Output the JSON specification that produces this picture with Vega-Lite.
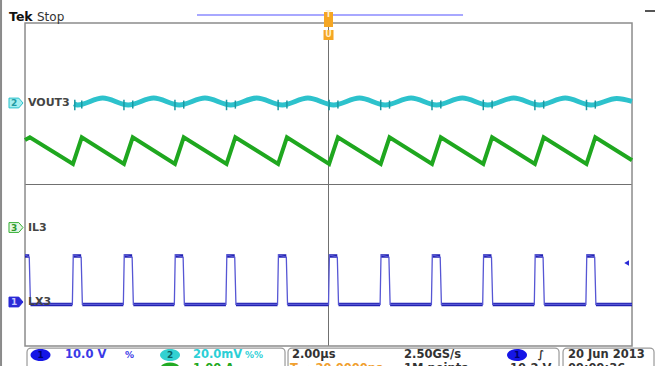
{
  "$schema": "https://vega.github.io/schema/vega-lite/v6.json",
  "width": 664,
  "height": 366,
  "padding": 0,
  "autosize": {"type": "none"},
  "background": "#ffffff",
  "config": {"view": {"stroke": null}, "text": {"font": "DejaVu Sans"}},
  "datasets": {
    "xt": [{"t":-10},{"t":-9.6},{"t":-9.2},{"t":-8.8},{"t":-8.4},{"t":-8},{"t":-7.6},{"t":-7.2},{"t":-6.8},{"t":-6.4},{"t":-6},{"t":-5.6},{"t":-5.2},{"t":-4.8},{"t":-4.4},{"t":-4},{"t":-3.6},{"t":-3.2},{"t":-2.8},{"t":-2.4},{"t":-2},{"t":-1.6},{"t":-1.2},{"t":-0.8},{"t":-0.4},{"t":0},{"t":0.4},{"t":0.8},{"t":1.2},{"t":1.6},{"t":2},{"t":2.4},{"t":2.8},{"t":3.2},{"t":3.6},{"t":4},{"t":4.4},{"t":4.8},{"t":5.2},{"t":5.6},{"t":6},{"t":6.4},{"t":6.8},{"t":7.2},{"t":7.6},{"t":8},{"t":8.4},{"t":8.8},{"t":9.2},{"t":9.6},{"t":10}],
    "yt": [{"v":-4},{"v":-3.8},{"v":-3.6},{"v":-3.4},{"v":-3.2},{"v":-3},{"v":-2.8},{"v":-2.6},{"v":-2.4},{"v":-2.2},{"v":-2},{"v":-1.8},{"v":-1.6},{"v":-1.4},{"v":-1.2},{"v":-1},{"v":-0.8},{"v":-0.6},{"v":-0.4},{"v":-0.2},{"v":0},{"v":0.2},{"v":0.4},{"v":0.6},{"v":0.8},{"v":1},{"v":1.2},{"v":1.4},{"v":1.6},{"v":1.8},{"v":2},{"v":2.2},{"v":2.4},{"v":2.6},{"v":2.8},{"v":3},{"v":3.2},{"v":3.4},{"v":3.6},{"v":3.8},{"v":4}],
    "lx3": [{"t":-10,"v":-1.74},{"t":-9.86,"v":-1.8},{"t":-9.82,"v":-2.97},
      {"t":-8.44,"v":-2.97},{"t":-8.41,"v":-1.74},{"t":-8.15,"v":-1.8},{"t":-8.11,"v":-2.97},
      {"t":-6.76,"v":-2.97},{"t":-6.73,"v":-1.74},{"t":-6.47,"v":-1.8},{"t":-6.43,"v":-2.97},
      {"t":-5.08,"v":-2.97},{"t":-5.05,"v":-1.74},{"t":-4.79,"v":-1.8},{"t":-4.75,"v":-2.97},
      {"t":-3.38,"v":-2.97},{"t":-3.35,"v":-1.74},{"t":-3.09,"v":-1.8},{"t":-3.05,"v":-2.97},
      {"t":-1.68,"v":-2.97},{"t":-1.65,"v":-1.74},{"t":-1.39,"v":-1.8},{"t":-1.35,"v":-2.97},
      {"t":0,"v":-2.97},{"t":0.03,"v":-1.74},{"t":0.29,"v":-1.8},{"t":0.33,"v":-2.97},
      {"t":1.7,"v":-2.97},{"t":1.73,"v":-1.74},{"t":1.99,"v":-1.8},{"t":2.03,"v":-2.97},
      {"t":3.39,"v":-2.97},{"t":3.42,"v":-1.74},{"t":3.68,"v":-1.8},{"t":3.72,"v":-2.97},
      {"t":5.08,"v":-2.97},{"t":5.11,"v":-1.74},{"t":5.37,"v":-1.8},{"t":5.41,"v":-2.97},
      {"t":6.78,"v":-2.97},{"t":6.81,"v":-1.74},{"t":7.07,"v":-1.8},{"t":7.11,"v":-2.97},
      {"t":8.48,"v":-2.97},{"t":8.51,"v":-1.74},{"t":8.77,"v":-1.8},{"t":8.81,"v":-2.97},
      {"t":10,"v":-2.97}],
    "lx3_levels": [
      {"t":-9.82,"t2":-8.44,"v":-2.97},{"t":-8.11,"t2":-6.76,"v":-2.97},{"t":-6.43,"t2":-5.08,"v":-2.97},{"t":-4.75,"t2":-3.38,"v":-2.97},{"t":-3.05,"t2":-1.68,"v":-2.97},{"t":-1.35,"t2":0,"v":-2.97},{"t":0.33,"t2":1.7,"v":-2.97},{"t":2.03,"t2":3.39,"v":-2.97},{"t":3.72,"t2":5.08,"v":-2.97},{"t":5.41,"t2":6.78,"v":-2.97},{"t":7.11,"t2":8.48,"v":-2.97},{"t":8.81,"t2":10,"v":-2.97},
      {"t":-10,"t2":-9.86,"v":-1.77},{"t":-8.41,"t2":-8.15,"v":-1.77},{"t":-6.73,"t2":-6.47,"v":-1.77},{"t":-5.05,"t2":-4.79,"v":-1.77},{"t":-3.35,"t2":-3.09,"v":-1.77},{"t":-1.65,"t2":-1.39,"v":-1.77},{"t":0.03,"t2":0.29,"v":-1.77},{"t":1.73,"t2":1.99,"v":-1.77},{"t":3.42,"t2":3.68,"v":-1.77},{"t":5.11,"t2":5.37,"v":-1.77},{"t":6.81,"t2":7.07,"v":-1.77},{"t":8.51,"t2":8.77,"v":-1.77}],
    "il3": [{"t":-10,"v":1.1},{"t":-9.84,"v":1.17},{"t":-8.42,"v":0.51},{"t":-8.13,"v":1.17},{"t":-6.74,"v":0.51},{"t":-6.45,"v":1.17},{"t":-5.06,"v":0.51},{"t":-4.77,"v":1.17},{"t":-3.36,"v":0.51},{"t":-3.07,"v":1.17},{"t":-1.66,"v":0.51},{"t":-1.37,"v":1.17},{"t":0.02,"v":0.51},{"t":0.31,"v":1.17},{"t":1.72,"v":0.51},{"t":2.01,"v":1.17},{"t":3.41,"v":0.51},{"t":3.7,"v":1.17},{"t":5.1,"v":0.51},{"t":5.39,"v":1.17},{"t":6.8,"v":0.51},{"t":7.09,"v":1.17},{"t":8.5,"v":0.51},{"t":8.79,"v":1.17},{"t":10,"v":0.6}],
    "vout3": [{"t":-8.38,"v":2.0},{"t":-8.27,"v":1.97},{"t":-7.44,"v":2.14},{"t":-6.6,"v":1.97},{"t":-5.76,"v":2.14},{"t":-4.92,"v":1.97},{"t":-4.07,"v":2.14},{"t":-3.22,"v":1.97},{"t":-2.37,"v":2.14},{"t":-1.52,"v":1.97},{"t":-0.68,"v":2.14},{"t":0.17,"v":1.97},{"t":1.02,"v":2.14},{"t":1.87,"v":1.97},{"t":2.72,"v":2.14},{"t":3.56,"v":1.97},{"t":4.41,"v":2.14},{"t":5.25,"v":1.97},{"t":6.1,"v":2.14},{"t":6.95,"v":1.97},{"t":7.8,"v":2.14},{"t":8.65,"v":1.97},{"t":9.5,"v":2.13},{"t":10,"v":2.06}],
    "spikes": [{"t":-8.36,"v":1.84,"v2":2.1},{"t":-6.74,"v":1.84,"v2":2.1},{"t":-5.06,"v":1.84,"v2":2.1},{"t":-3.36,"v":1.84,"v2":2.1},{"t":-1.66,"v":1.84,"v2":2.1},{"t":0.02,"v":1.84,"v2":2.1},{"t":1.72,"v":1.84,"v2":2.1},{"t":3.41,"v":1.84,"v2":2.1},{"t":5.1,"v":1.84,"v2":2.1},{"t":6.8,"v":1.84,"v2":2.1},{"t":8.5,"v":1.84,"v2":2.1},
      {"t":-8.13,"v":1.88,"v2":2.08},{"t":-6.45,"v":1.88,"v2":2.08},{"t":-4.77,"v":1.88,"v2":2.08},{"t":-3.07,"v":1.88,"v2":2.08},{"t":-1.37,"v":1.88,"v2":2.08},{"t":0.31,"v":1.88,"v2":2.08},{"t":2.01,"v":1.88,"v2":2.08},{"t":3.7,"v":1.88,"v2":2.08},{"t":5.39,"v":1.88,"v2":2.08},{"t":7.09,"v":1.88,"v2":2.08},{"t":8.79,"v":1.88,"v2":2.08}]
  },
  "encoding": {
    "x": {"field": "t", "type": "quantitative", "scale": {"domain": [-10.824, 11.054], "nice": false, "zero": false}, "axis": null},
    "y": {"field": "v", "type": "quantitative", "scale": {"domain": [-4.495, 4.57], "nice": false, "zero": false}, "axis": null}
  },
  "layer": [
    {"data": {"values": [{"v":-3},{"v":-2},{"v":-1},{"v":1},{"v":2},{"v":3}]},
     "mark": {"type": "rule", "color": "#999999", "strokeWidth": 1, "strokeDash": [2, 10.14]},
     "encoding": {"x": {"datum": -10}, "x2": {"datum": 10}}},
    {"data": {"values": [{"t":-8},{"t":-6},{"t":-4},{"t":-2},{"t":2},{"t":4},{"t":6},{"t":8}]},
     "mark": {"type": "rule", "color": "#999999", "strokeWidth": 1, "strokeDash": [2, 6.075]},
     "encoding": {"y": {"datum": 4}, "y2": {"datum": -4}}},
    {"data": {"values": [{"t": -10, "t2": 10, "v": 0, "v2": 0}, {"t": 0, "t2": 0, "v": 4, "v2": -4}]},
     "mark": {"type": "rule", "color": "#707070", "strokeWidth": 1},
     "encoding": {"x2": {"field": "t2"}, "y2": {"field": "v2"}}},
    {"data": {"values": [{"t": -10, "t2": 10, "v": 4, "v2": -4}]},
     "mark": {"type": "rect", "fillOpacity": 0, "stroke": "#8c8c8c", "strokeWidth": 1.5},
     "encoding": {"x2": {"field": "t2"}, "y2": {"field": "v2"}}},
    {"data": {"name": "xt"}, "mark": {"type": "tick", "orient": "vertical", "size": 6, "thickness": 1, "color": "#707070"}, "encoding": {"y": {"datum": 0}}},
    {"data": {"name": "xt"}, "mark": {"type": "tick", "orient": "vertical", "size": 4, "thickness": 1, "color": "#8c8c8c", "yOffset": 2}, "encoding": {"y": {"datum": 4}}},
    {"data": {"name": "xt"}, "mark": {"type": "tick", "orient": "vertical", "size": 4, "thickness": 1, "color": "#8c8c8c", "yOffset": -2}, "encoding": {"y": {"datum": -4}}},
    {"data": {"name": "yt"}, "mark": {"type": "tick", "orient": "horizontal", "size": 6, "thickness": 1, "color": "#707070"}, "encoding": {"x": {"datum": 0}}},
    {"data": {"name": "yt"}, "mark": {"type": "tick", "orient": "horizontal", "size": 4, "thickness": 1, "color": "#8c8c8c", "xOffset": 2}, "encoding": {"x": {"datum": -10}}},
    {"data": {"name": "yt"}, "mark": {"type": "tick", "orient": "horizontal", "size": 4, "thickness": 1, "color": "#8c8c8c", "xOffset": -2}, "encoding": {"x": {"datum": 10}}},
    {"data": {"values": [{"t": -10.79, "v": 4.57, "v2": -4.5}]},
     "mark": {"type": "rule", "color": "#8a8a8a", "strokeWidth": 2},
     "encoding": {"y2": {"field": "v2"}}},
    {"data": {"name": "lx3_levels"}, "mark": {"type": "rule", "color": "#2222b2", "strokeWidth": 3.5}, "encoding": {"x2": {"field": "t2"}}},
    {"data": {"name": "lx3"}, "mark": {"type": "line", "color": "#5656d4", "strokeWidth": 1.3}, "encoding": {}},
    {"data": {"name": "il3"}, "mark": {"type": "line", "color": "#1fa71f", "strokeWidth": 4}, "encoding": {}},
    {"data": {"name": "vout3"}, "mark": {"type": "line", "color": "#2dc2cc", "strokeWidth": 5, "interpolate": "monotone"}, "encoding": {}},
    {"data": {"name": "spikes"}, "mark": {"type": "rule", "color": "#1a98a2", "strokeWidth": 1.5}, "encoding": {"y2": {"field": "v2"}}},
    {"data": {"values": [{"t": -10.297, "v": 2.019}]},
     "mark": {"type": "point", "shape": "M-1,-0.7L0.4,-0.7L1,0L0.4,0.7L-1,0.7Z", "size": 196, "filled": true, "fill": "#a4eef0", "stroke": "#2dc2cc", "strokeWidth": 1, "opacity": 1}},
    {"data": {"values": [{"t": -10.297, "v": -1.065}]},
     "mark": {"type": "point", "shape": "M-1,-0.7L0.4,-0.7L1,0L0.4,0.7L-1,0.7Z", "size": 196, "filled": true, "fill": "#e6f7e6", "stroke": "#34b034", "strokeWidth": 1, "opacity": 1}},
    {"data": {"values": [{"t": -10.297, "v": -2.91}]},
     "mark": {"type": "point", "shape": "M-1,-0.7L0.4,-0.7L1,0L0.4,0.7L-1,0.7Z", "size": 196, "filled": true, "fill": "#2a2ad6", "stroke": "#2a2ad6", "strokeWidth": 1, "opacity": 1}},
    {"data": {"values": [{"t": -10.36, "v": 2.019, "label": "2"}]},
     "mark": {"type": "text", "fontSize": 9, "fontWeight": "bold", "color": "#1d9aa3", "align": "center", "baseline": "middle"},
     "encoding": {"text": {"field": "label"}}},
    {"data": {"values": [{"t": -10.36, "v": -1.065, "label": "3"}]},
     "mark": {"type": "text", "fontSize": 9, "fontWeight": "bold", "color": "#2c9a2c", "align": "center", "baseline": "middle"},
     "encoding": {"text": {"field": "label"}}},
    {"data": {"values": [{"t": -10.36, "v": -2.91, "label": "1"}]},
     "mark": {"type": "text", "fontSize": 9, "fontWeight": "bold", "color": "#c8c8ff", "align": "center", "baseline": "middle"},
     "encoding": {"text": {"field": "label"}}},
    {"data": {"values": [{"t": -9.901, "v": 2.019, "label": "VOUT3"}, {"t": -9.901, "v": -1.065, "label": "IL3"}, {"t": -9.901, "v": -2.91, "label": "LX3"}]},
     "mark": {"type": "text", "fontSize": 11, "fontWeight": "bold", "color": "#444444", "align": "left", "baseline": "middle"},
     "encoding": {"text": {"field": "label"}}},
    {"data": {"values": [{"t": 9.822, "v": -1.944}]},
     "mark": {"type": "point", "shape": "triangle-left", "filled": true, "color": "#2a2ad6", "size": 30, "opacity": 1}},
    {"data": {"values": [{"t": -10.527, "v": 4.149, "label": "Tek"}]},
     "mark": {"type": "text", "fontSize": 12.5, "fontWeight": "bold", "color": "#111111", "align": "left", "baseline": "middle"},
     "encoding": {"text": {"field": "label"}}},
    {"data": {"values": [{"t": -9.605, "v": 4.149, "label": "Stop"}]},
     "mark": {"type": "text", "fontSize": 12, "color": "#333333", "align": "left", "baseline": "middle"},
     "encoding": {"text": {"field": "label"}}},
    {"data": {"values": [{"t": -4.333, "t2": 4.432, "v": 4.198}]},
     "mark": {"type": "rule", "color": "#a8a8ff", "strokeWidth": 2},
     "encoding": {"x2": {"field": "t2"}}},
    {"data": {"values": [{"t": 10.428, "t2": 10.758, "v": 4.297}]},
     "mark": {"type": "rule", "color": "#555555", "strokeWidth": 2},
     "encoding": {"x2": {"field": "t2"}}},
    {"data": {"values": [{"t": 0, "v": 4.087}]},
     "mark": {"type": "point", "shape": "M-0.6,-1L0.6,-1L0.6,1L-0.6,1Z", "size": 225, "filled": true, "color": "#f5a623", "opacity": 1}},
    {"data": {"values": [{"t": 0, "v": 3.703}]},
     "mark": {"type": "point", "shape": "square", "size": 100, "filled": true, "color": "#f5a623", "opacity": 1}},
    {"data": {"values": [{"t": 0, "v": 4.2, "label": "T"}, {"t": 0, "v": 3.703, "label": "U"}]},
     "mark": {"type": "text", "fontSize": 8, "fontWeight": "bold", "color": "#fff0d0", "align": "center", "baseline": "middle"},
     "encoding": {"text": {"field": "label"}}},
    {"data": {"values": [{"t": -9.934, "t2": -1.433, "v": -4.05, "v2": -4.9}, {"t": -1.334, "t2": 7.595, "v": -4.05, "v2": -4.9}, {"t": 7.727, "t2": 10.725, "v": -4.05, "v2": -4.9}]},
     "mark": {"type": "rect", "fill": "#ffffff", "stroke": "#9a9a9a", "strokeWidth": 1.2, "cornerRadius": 4},
     "encoding": {"x2": {"field": "t2"}, "y2": {"field": "v2"}}},
    {"data": {"values": [{"t": -9.489, "v": -4.223}, {"t": 6.211, "v": -4.223}]},
     "mark": {"type": "point", "shape": "M-1,0A1,0.6,0,1,1,1,0A1,0.6,0,1,1,-1,0Z", "size": 400, "filled": true, "color": "#1515e6", "opacity": 1}},
    {"data": {"values": [{"t": -5.222, "v": -4.223}]},
     "mark": {"type": "point", "shape": "M-1,0A1,0.6,0,1,1,1,0A1,0.6,0,1,1,-1,0Z", "size": 400, "filled": true, "color": "#33d1d1", "opacity": 1}},
    {"data": {"values": [{"t": -5.222, "v": -4.56}]},
     "mark": {"type": "point", "shape": "M-1,0A1,0.6,0,1,1,1,0A1,0.6,0,1,1,-1,0Z", "size": 400, "filled": true, "color": "#22aa22", "opacity": 1}},
    {"data": {"values": [{"t": -9.489, "v": -4.223, "label": "1"}, {"t": 6.211, "v": -4.223, "label": "1"}]},
     "mark": {"type": "text", "fontSize": 9, "fontWeight": "bold", "color": "#00006a", "align": "center", "baseline": "middle"},
     "encoding": {"text": {"field": "label"}}},
    {"data": {"values": [{"t": -5.222, "v": -4.223, "label": "2"}]},
     "mark": {"type": "text", "fontSize": 9, "fontWeight": "bold", "color": "#0b5f63", "align": "center", "baseline": "middle"},
     "encoding": {"text": {"field": "label"}}},
    {"data": {"values": [{"t": -8.682, "v": -4.223, "label": "10.0 V"}]},
     "mark": {"type": "text", "fontSize": 11.5, "fontWeight": "bold", "color": "#3a3ae6", "align": "left", "baseline": "middle"},
     "encoding": {"text": {"field": "label"}}},
    {"data": {"values": [{"t": -6.705, "v": -4.223, "label": "%"}]},
     "mark": {"type": "text", "fontSize": 9, "fontWeight": "bold", "color": "#3a3ae6", "align": "left", "baseline": "middle"},
     "encoding": {"text": {"field": "label"}}},
    {"data": {"values": [{"t": -4.465, "v": -4.223, "label": "20.0mV"}]},
     "mark": {"type": "text", "fontSize": 11.5, "fontWeight": "bold", "color": "#2ccfd6", "align": "left", "baseline": "middle"},
     "encoding": {"text": {"field": "label"}}},
    {"data": {"values": [{"t": -2.751, "v": -4.223, "label": "%%"}]},
     "mark": {"type": "text", "fontSize": 9, "fontWeight": "bold", "color": "#2ccfd6", "align": "left", "baseline": "middle"},
     "encoding": {"text": {"field": "label"}}},
    {"data": {"values": [{"t": -4.465, "v": -4.575, "label": "1.00 A"}]},
     "mark": {"type": "text", "fontSize": 11.5, "fontWeight": "bold", "color": "#22a822", "align": "left", "baseline": "middle"},
     "encoding": {"text": {"field": "label"}}},
    {"data": {"values": [{"t": -1.269, "v": -4.575, "label": "T → 20.0000ns"}]},
     "mark": {"type": "text", "fontSize": 11.5, "fontWeight": "bold", "color": "#f0a030", "align": "left", "baseline": "middle"},
     "encoding": {"text": {"field": "label"}}},
    {"data": {"values": [{"t": -1.203, "v": -4.223, "label": "2.00µs"}, {"t": 2.488, "v": -4.223, "label": "2.50GS/s"}, {"t": 7.891, "v": -4.223, "label": "20 Jun 2013"}, {"t": 2.488, "v": -4.575, "label": "1M points"}, {"t": 5.98, "v": -4.575, "label": "10.2 V"}, {"t": 7.891, "v": -4.575, "label": "09:09:36"}]},
     "mark": {"type": "text", "fontSize": 11.5, "fontWeight": "bold", "color": "#333333", "align": "left", "baseline": "middle"},
     "encoding": {"text": {"field": "label"}}},
    {"data": {"values": [{"t": 7.002, "v": -4.223, "label": "∫"}]},
     "mark": {"type": "text", "fontSize": 10.5, "fontWeight": "bold", "color": "#333333", "align": "center", "baseline": "middle"},
     "encoding": {"text": {"field": "label"}}}
  ]
}
